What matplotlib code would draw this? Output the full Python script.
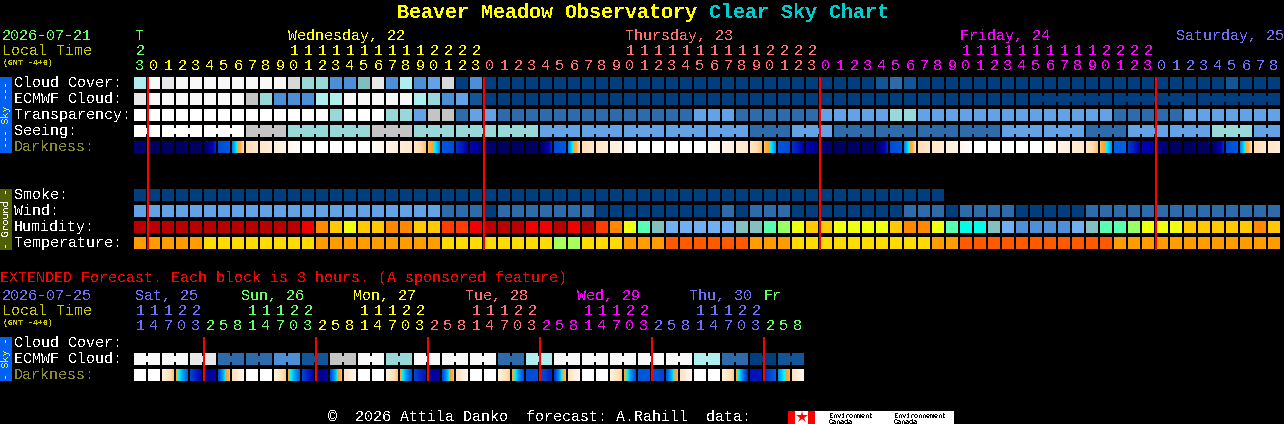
import numpy as np
import matplotlib
matplotlib.use('Agg')
import matplotlib.pyplot as plt
from matplotlib.colors import LinearSegmentedColormap

plt.rcParams['font.family'] = ['Liberation Mono', 'DejaVu Sans Mono']
plt.rcParams['text.antialiased'] = False
plt.rcParams['text.hinting'] = 'no_autohint'
plt.rcParams['text.hinting_factor'] = 1

# colours of the blocks, rows below are indexes into these
sky_colors = ['#003E7E', '#135698', '#2D6BAB', '#4D8FD6', '#63A3E5', '#7FBFBF', '#98D8D8',
              '#AEEEEE', '#C4C4C4', '#E8E8E8', '#F8F8F8', '#FFFFFF', '#D8D8D8']
hum_colors = ['#B80000', '#F00000', '#FF3C00', '#FF8800', '#FFC800', '#EEFF10', '#99FF66',
              '#58FFB0', '#00FFE8', '#85C0C0', '#70B0F0', '#4F8FD6']
temp_colors = ['#FF5A00', '#FF9C00', '#FFDC00', '#A6FF5A']

cloud_cover = [7, 10, 9, 10, 10, 10, 10, 10, 10, 10,
               10, 12, 6, 6, 3, 3, 5, 9, 3, 7,
               3, 4, 12, 0, 3, 0, 0, 0, 0, 0,
               0, 0, 0, 0, 0, 0, 0, 0, 0, 0,
               0, 0, 0, 0, 0, 0, 0, 0, 0, 0,
               0, 0, 0, 1, 2, 1, 0, 0, 0, 0,
               0, 0, 0, 0, 0, 0, 0, 0, 0, 0,
               0, 0, 0, 0, 0, 0, 0, 0, 1, 0,
               0, 0]
ecmwf = [9, 10, 10, 10, 10, 10, 10, 10, 8, 6,
         3, 3, 3, 7, 7, 10, 10, 10, 10, 10,
         7, 6, 3, 4, 1, 0, 0, 0, 0, 0,
         0, 0, 0, 0, 0, 0, 0, 0, 0, 0,
         0, 0, 0, 0, 0, 0, 0, 0, 0, 0,
         0, 0, 0, 0, 0, 0, 0, 0, 0, 0,
         0, 0, 0, 0, 0, 0, 0, 0, 0, 0,
         0, 0, 0, 0, 0, 0, 0, 0, 0, 0,
         0, 0]
transparency = [11, 11, 11, 11, 11, 11, 11, 11, 11, 11,
                11, 11, 11, 11, 6, 11, 11, 11, 6, 6,
                4, 8, 8, 2, 4, 4, 2, 2, 2, 2,
                2, 2, 2, 2, 2, 2, 2, 2, 2, 2,
                4, 4, 4, 2, 2, 2, 2, 2, 2, 4,
                4, 4, 4, 4, 6, 6, 4, 4, 4, 4,
                4, 4, 4, 4, 4, 4, 4, 4, 4, 4,
                2, 2, 2, 2, 2, 4, 4, 4, 4, 4,
                4, 4]
seeing = [11, 11, 11, 11, 11, 11, 11, 11, 8, 8,
          8, 6, 6, 6, 6, 6, 6, 8, 8, 8,
          6, 6, 6, 6, 6, 6, 6, 6, 6, 4,
          4, 4, 4, 4, 4, 4, 4, 4, 4, 4,
          4, 4, 4, 4, 2, 2, 2, 4, 4, 4,
          2, 2, 2, 2, 2, 2, 2, 2, 2, 2,
          2, 2, 4, 4, 4, 4, 4, 4, 2, 2,
          2, 4, 4, 4, 4, 4, 4, 6, 6, 6,
          4, 4]
smoke = [0] * 58
wind = [4, 4, 4, 4, 4, 4, 4, 4, 4, 4,
        4, 4, 4, 4, 4, 4, 4, 4, 4, 4,
        4, 4, 2, 2, 2, 0, 2, 2, 2, 2,
        2, 2, 2, 0, 0, 0, 0, 0, 0, 0,
        0, 0, 2, 0, 2, 2, 2, 0, 0, 0,
        0, 0, 0, 0, 0, 2, 2, 2, 0, 2,
        2, 2, 2, 0, 0, 0, 0, 0, 2, 2,
        2, 2, 2, 2, 2, 2, 2, 2, 2, 2,
        2, 2]
humidity = [0, 0, 0, 0, 0, 0, 0, 0, 0, 0,
            0, 0, 1, 3, 4, 5, 4, 4, 3, 3,
            4, 4, 2, 2, 1, 0, 0, 0, 1, 1,
            0, 1, 0, 2, 3, 5, 7, 9, 10, 10,
            10, 10, 10, 9, 9, 7, 6, 5, 4, 4,
            5, 5, 5, 5, 4, 3, 3, 5, 7, 8,
            8, 9, 10, 11, 11, 11, 11, 10, 9, 7,
            7, 6, 5, 5, 5, 4, 4, 4, 4, 4,
            3, 4]
temperature = [1, 1, 1, 1, 1, 2, 2, 2, 2, 2,
               2, 2, 2, 1, 1, 1, 1, 1, 1, 1,
               1, 1, 2, 2, 2, 2, 2, 2, 2, 2,
               3, 3, 2, 2, 2, 1, 1, 1, 0, 0,
               0, 0, 0, 0, 1, 1, 1, 2, 2, 2,
               2, 2, 2, 2, 2, 2, 2, 1, 1, 0,
               0, 0, 0, 0, 0, 0, 0, 0, 0, 0,
               1, 1, 1, 1, 1, 1, 1, 1, 1, 1,
               1, 1]

# darkness changes inside a block, so each block has a start and an end value
# 0 = daylight, 6 = full dark
dark_start = [5.8, 6, 6, 6, 6, 6, 4.2, 3.7, 1.9, 1.5,
              1.1, 0.5, 0, 0, 0, 0, 0, 0.3, 0.7, 1.2,
              1.6, 2.4, 4.1, 4.5, 5.0, 5.8, 6, 6, 6, 6,
              4.2, 3.7, 1.9, 1.5, 1.1, 0.5, 0, 0, 0, 0,
              0, 0.3, 0.7, 1.2, 1.6, 2.4, 4.1, 4.5, 5.0, 5.8,
              6, 6, 6, 6, 4.2, 3.7, 1.9, 1.5, 1.1, 0.5,
              0, 0, 0, 0, 0, 0.3, 0.7, 1.2, 1.6, 2.4,
              4.0, 4.4, 5.0, 5.6, 6, 6, 6, 6, 4.2, 3.7,
              1.9, 1.5]
dark_end = [5.8, 6, 6, 6, 6, 4.6, 4.1, 2.0, 1.5, 1.2,
            0.8, 0.2, 0, 0, 0, 0, 0, 0.6, 1.1, 1.5,
            2.3, 3.6, 4.2, 5.0, 5.6, 5.8, 6, 6, 6, 4.6,
            4.1, 2.0, 1.5, 1.2, 0.8, 0.2, 0, 0, 0, 0,
            0, 0.6, 1.1, 1.5, 2.3, 3.6, 4.2, 5.0, 5.5, 5.8,
            6, 6, 6, 4.6, 4.1, 2.0, 1.5, 1.2, 0.8, 0.2,
            0, 0, 0, 0, 0, 0.6, 1.1, 1.5, 2.3, 3.6,
            4.0, 5.0, 5.1, 5.8, 6, 6, 6, 4.6, 4.1, 2.0,
            1.5, 1.2]

ext_ecmwf = [10, 10, 10, 10, 9, 9, 2, 2, 2, 2,
             3, 3, 1, 1, 8, 8, 10, 10, 6, 6,
             10, 10, 10, 10, 10, 10, 2, 2, 7, 7,
             10, 10, 10, 10, 10, 10, 10, 10, 10, 10,
             7, 7, 2, 2, 0, 0, 1, 1]
ext_dark_start = [0, 0, 1, 2.8, 4.3, 5.6, 4.2, 1.8, 0, 0,
                  1, 2.8, 4.3, 5.8, 4.2, 1.7, 0, 0, 1, 2.8,
                  4.3, 5.2, 4.2, 1.7, 0, 0, 1, 2.7, 4.2, 4.2,
                  4.4, 1.7, 0, 0, 1, 2.7, 4.1, 4.1, 4.1, 1.7,
                  0, 0, 1, 2.7, 4.8, 4.5, 3.6, 1.7]
ext_dark_end = [0, 0, 2.3, 4.0, 5.0, 5.0, 2.4, 0.6, 0, 0,
                2.2, 4.0, 5.0, 5.0, 2.4, 0.6, 0, 0, 2.3, 4.2,
                4.8, 5.2, 2.4, 0.6, 0, 0, 2.2, 4.2, 4.2, 4.6,
                2.4, 0.6, 0, 0, 2.2, 4.2, 4.1, 4.3, 2.5, 0.6,
                0, 0, 2.2, 4.5, 4.8, 4.0, 2.5, 0.6]

# how many blocks are joined together in the rows that have 3 hour data
seeing_groups = [2] + [3] * 26 + [2]
ecmwf_groups = [1] * 64 + [6, 6, 6]
ext_groups = [2] * 24

hours = [23] + list(range(24)) * 3 + list(range(9))
hours_day = [0] + [1] * 24 + [2] * 24 + [3] * 24 + [4] * 9
ext_hours = [11, 14, 17, 20, 23] + [2, 5, 8, 11, 14, 17, 20, 23] * 5 + [2, 5, 8]
ext_hours_day = [4] * 5 + [0] * 8 + [1] * 8 + [2] * 8 + [3] * 8 + [4] * 8 + [0] * 3
day_colors = ['#66FF66', '#FFFF00', '#FF7070', '#FF00FF', '#7070FF']

day_names = ['T', 'Wednesday, 22', 'Thursday, 23', 'Friday, 24', 'Saturday, 25']
day_x = [135, 288, 625, 960, 1176]
ext_day_names = ['Sat, 25', 'Sun, 26', 'Mon, 27', 'Tue, 28', 'Wed, 29', 'Thu, 30', 'Fr']
ext_day_x = [135, 241, 353, 465, 577, 689, 764]
ext_day_cols = [4, 0, 1, 2, 3, 4, 0]

sky_rows = ['Cloud Cover:', 'ECMWF Cloud:', 'Transparency:', 'Seeing:']
ground_rows = ['Smoke:', 'Wind:', 'Humidity:', 'Temperature:']

dark_cmap = LinearSegmentedColormap.from_list('dark', [
    (0 / 6, '#FFFFFF'), (1 / 6, '#FFF0E0'), (2 / 6, '#FFDDB0'), (2.5 / 6, '#FFB040'),
    (2.9 / 6, '#FFA030'), (3 / 6, '#00FFFF'), (3.5 / 6, '#00A0F8'), (4 / 6, '#0060E0'),
    (5 / 6, '#0000B0'), (6 / 6, '#000060')], N=512)

CELL = 14
X0 = 134


def cols(n):
    return X0 + CELL * np.arange(n)


def draw_row(y, values, palette, groups=None):
    colors = [palette[v] for v in values]
    ax.bar(cols(len(values)), 12, width=12, bottom=y, align='edge', color=colors,
           linewidth=0, antialiased=False, zorder=2)
    if groups is None:
        return
    # joined blocks have a small neck between them
    i = 0
    for g in groups:
        for j in range(i, i + g - 1):
            ax.bar(X0 + CELL * j + 12, 6, width=2, bottom=y + 3, align='edge', color=colors[j],
                   linewidth=0, antialiased=False, zorder=2)
        i += g


def draw_dark(y, start, end):
    for x, s, e in zip(cols(len(start)), start, end):
        ax.imshow(np.linspace(s, e, 12)[None, :], extent=(x, x + 12, y + 12, y), cmap=dark_cmap,
                  vmin=0, vmax=6, aspect='auto', interpolation='nearest', zorder=2)


def put(x, y, s, color='white', size=10.9, **kw):
    # y is the middle of the capitals, so go down to the baseline
    ax.text(x, y + size * 0.47, s, color=color, fontsize=size, va='baseline',
            ha=kw.pop('ha', 'left'), **kw)


def side_text(y, s, color):
    ax.text(6, y, s, color=color, fontsize=7.2, rotation=90, ha='center', va='center',
            family='DejaVu Sans Mono')


def red_lines(columns, top, bottom):
    ax.bar(X0 + CELL * np.array(columns) - 1, bottom - top, width=2, bottom=top, align='edge',
           color='#FF0000', linewidth=0, antialiased=False, zorder=3)


def hour_labels(y_tens, y_units, hrs, days):
    for x, h, d in zip(cols(len(hrs)) + 6, hrs, days):
        put(x, y_units, str(h % 10), day_colors[d], ha='center')
        if h >= 10:
            put(x, y_tens, str(h // 10), day_colors[d], ha='center')


fig = plt.figure(figsize=(12.84, 4.24), dpi=100, facecolor='black')
ax = fig.add_axes([0, 0, 1, 1])
ax.set_facecolor('black')
ax.axis('off')

# title
put(397, 11, 'Beaver Meadow Observatory', '#FFFF00', 14.4, fontweight='bold')
put(709, 11, 'Clear Sky Chart', '#00CCCC', 14.4, fontweight='bold')

# top header
put(2, 35, '2026-07-21', '#66FF66')
put(2, 50, 'Local Time', '#C8C800')
put(3, 62.5, '(GMT -4+0)', '#C8C800', 5.6, fontweight='bold')
for name, x, d in zip(day_names, day_x, range(5)):
    put(x, 35, name, day_colors[d])
hour_labels(50, 65, hours, hours_day)

# main rows
for name, y in zip(sky_rows, [82, 98, 114, 130]):
    put(14, y, name)
put(14, 146, 'Darkness:', '#8B8B30')
for name, y in zip(ground_rows, [194, 210, 226, 242]):
    put(14, y, name)

draw_row(77, cloud_cover, sky_colors)
draw_row(93, ecmwf, sky_colors, ecmwf_groups)
draw_row(109, transparency, sky_colors)
draw_row(125, seeing, sky_colors, seeing_groups)
draw_dark(141, dark_start, dark_end)
draw_row(189, smoke, sky_colors)
draw_row(205, wind, sky_colors)
draw_row(221, humidity, hum_colors)
draw_row(237, temperature, temp_colors)

# side bars
ax.bar(0, 76, width=12, bottom=77, align='edge', color='#0060F0', linewidth=0)
ax.bar(0, 61, width=12, bottom=189, align='edge', color='#506000', linewidth=0)
ax.bar(0, 44, width=12, bottom=337, align='edge', color='#0060F0', linewidth=0)
side_text(115, '--- Sky ---', '#FFFF00')
side_text(219, '- Ground -', 'white')
side_text(359, '- Sky -', '#FFFF00')

# midnight lines
red_lines([1, 25, 49, 73], 77, 250)

# extended forecast
put(0, 276.7, 'EXTENDED Forecast. Each block is 3 hours. (A sponsored feature)', '#FF0000')
put(2, 295, '2026-07-25', '#7070FF')
put(2, 310, 'Local Time', '#C8C800')
put(3, 322.5, '(GMT -4+0)', '#C8C800', 5.6, fontweight='bold')
for name, x, d in zip(ext_day_names, ext_day_x, ext_day_cols):
    put(x, 295, name, day_colors[d])
hour_labels(310, 325, ext_hours, ext_hours_day)

put(14, 342, 'Cloud Cover:')
put(14, 358, 'ECMWF Cloud:')
put(14, 374, 'Darkness:', '#8B8B30')
draw_row(353, ext_ecmwf, sky_colors, ext_groups)
draw_dark(369, ext_dark_start, ext_dark_end)
red_lines([5, 13, 21, 29, 37, 45], 337, 381)

# footer with the Environment Canada logo
put(328, 416, '\u00a9  2026 Attila Danko  forecast: A.Rahill  data:')
ax.bar(788, 13, width=166, bottom=411, align='edge', color='white', linewidth=0)
ax.bar(788, 13, width=7, bottom=411, align='edge', color='#FF0000', linewidth=0)
ax.bar(808, 13, width=7, bottom=411, align='edge', color='#FF0000', linewidth=0)
ax.plot([801.5], [417], marker='*', color='#FF0000', markersize=9, markeredgewidth=0)
for x, word in [(829, 'Environment'), (894, 'Environnement')]:
    put(x, 415, word, 'black', 5.4)
    put(x, 421.5, 'Canada', 'black', 5.4)

ax.set_xlim(0, 1284)
ax.set_ylim(424, 0)
fig.savefig('out.png', dpi=100, facecolor='black')
